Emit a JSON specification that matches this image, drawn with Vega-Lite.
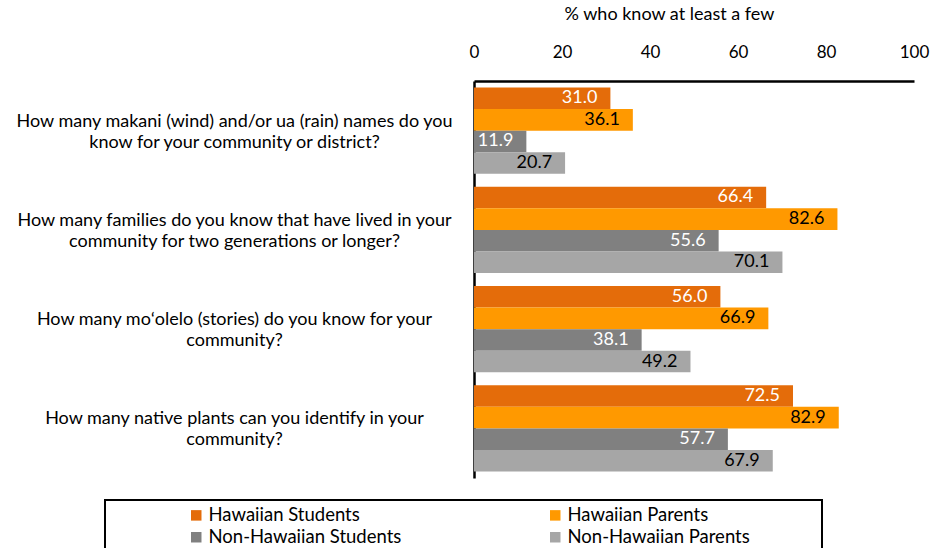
{
  "$schema": "https://vega.github.io/schema/vega-lite/v6.json",
  "width": 440,
  "height": 397,
  "autosize": {"type": "none"},
  "padding": {"left": 474, "top": 81, "right": 26, "bottom": 70},
  "background": "white",
  "config": {
    "view": {"stroke": null},
    "font": "Lato",
    "legend": {"strokeWidth": 2}
  },
  "data": {
    "values": [
      {"question": "How many makani (wind) and/or ua (rain) names do you|know for your community or district?", "group": "Hawaiian Students", "pct": 31.0},
      {"question": "How many makani (wind) and/or ua (rain) names do you|know for your community or district?", "group": "Hawaiian Parents", "pct": 36.1},
      {"question": "How many makani (wind) and/or ua (rain) names do you|know for your community or district?", "group": "Non-Hawaiian Students", "pct": 11.9},
      {"question": "How many makani (wind) and/or ua (rain) names do you|know for your community or district?", "group": "Non-Hawaiian Parents", "pct": 20.7},
      {"question": "How many families do you know that have lived in your|community for two generations or longer?", "group": "Hawaiian Students", "pct": 66.4},
      {"question": "How many families do you know that have lived in your|community for two generations or longer?", "group": "Hawaiian Parents", "pct": 82.6},
      {"question": "How many families do you know that have lived in your|community for two generations or longer?", "group": "Non-Hawaiian Students", "pct": 55.6},
      {"question": "How many families do you know that have lived in your|community for two generations or longer?", "group": "Non-Hawaiian Parents", "pct": 70.1},
      {"question": "How many moʻolelo (stories) do you know for your|community?", "group": "Hawaiian Students", "pct": 56.0},
      {"question": "How many moʻolelo (stories) do you know for your|community?", "group": "Hawaiian Parents", "pct": 66.9},
      {"question": "How many moʻolelo (stories) do you know for your|community?", "group": "Non-Hawaiian Students", "pct": 38.1},
      {"question": "How many moʻolelo (stories) do you know for your|community?", "group": "Non-Hawaiian Parents", "pct": 49.2},
      {"question": "How many native plants can you identify in your|community?", "group": "Hawaiian Students", "pct": 72.5},
      {"question": "How many native plants can you identify in your|community?", "group": "Hawaiian Parents", "pct": 82.9},
      {"question": "How many native plants can you identify in your|community?", "group": "Non-Hawaiian Students", "pct": 57.7},
      {"question": "How many native plants can you identify in your|community?", "group": "Non-Hawaiian Parents", "pct": 67.9}
    ]
  },
  "encoding": {
    "y": {
      "field": "question",
      "type": "nominal",
      "sort": null,
      "scale": {"paddingInner": 0.13, "paddingOuter": 0.065},
      "axis": {
        "title": null,
        "labelExpr": "split(datum.label, '|')",
        "labelAlign": "center",
        "labelBaseline": "middle",
        "labelPadding": 240,
        "labelOffset": -9,
        "labelFontSize": 18,
        "labelLineHeight": 21,
        "labelLimit": 0,
        "labelColor": "black",
        "ticks": false,
        "domainColor": "black",
        "domainWidth": 2.5
      }
    },
    "x": {
      "field": "pct",
      "type": "quantitative",
      "scale": {"domain": [0, 100]},
      "axis": {
        "orient": "top",
        "values": [0, 20, 40, 60, 80, 100],
        "title": "% who know at least a few",
        "titleFontSize": 18,
        "titleFontWeight": "normal",
        "titleColor": "black",
        "titlePadding": 20,
        "titleX": 195,
        "labelFontSize": 17,
        "labelColor": "black",
        "labelPadding": 20,
        "labelFlush": false,
        "labelOverlap": false,
        "ticks": false,
        "grid": false,
        "domainColor": "black",
        "domainWidth": 2.5
      }
    },
    "yOffset": {
      "field": "group",
      "type": "nominal",
      "sort": ["Hawaiian Students", "Hawaiian Parents", "Non-Hawaiian Students", "Non-Hawaiian Parents"],
      "scale": {"paddingInner": 0, "paddingOuter": 0}
    }
  },
  "layer": [
    {
      "mark": {"type": "bar"},
      "encoding": {
        "color": {
          "field": "group",
          "type": "nominal",
          "sort": ["Hawaiian Students", "Hawaiian Parents", "Non-Hawaiian Students", "Non-Hawaiian Parents"],
          "scale": {
            "domain": ["Hawaiian Students", "Hawaiian Parents", "Non-Hawaiian Students", "Non-Hawaiian Parents"],
            "range": ["#E46C0A", "#FF9900", "#808080", "#A6A6A6"]
          },
          "legend": {
            "title": ".",
            "titleOrient": "right",
            "titlePadding": 63,
            "titleOpacity": 0,
            "titleFontSize": 10,
            "orient": "none",
            "direction": "horizontal",
            "legendX": -369,
            "legendY": 419,
            "columns": 2,
            "columnPadding": 68,
            "rowPadding": 3,
            "symbolType": "square",
            "symbolSize": 110,
            "symbolStrokeWidth": 0,
            "symbolOffset": 76,
            "labelFontSize": 18.5,
            "labelColor": "black",
            "labelOffset": 3,
            "labelLimit": 0,
            "padding": 6,
            "strokeColor": "black"
          }
        }
      }
    },
    {
      "mark": {"type": "text", "align": "right", "baseline": "middle", "dx": -13, "fontSize": 18},
      "encoding": {
        "text": {"field": "pct", "type": "quantitative", "format": ".1f"},
        "color": {
          "condition": {"test": "indexof(datum.group, 'Students') >= 0", "value": "white"},
          "value": "black"
        }
      }
    }
  ]
}
